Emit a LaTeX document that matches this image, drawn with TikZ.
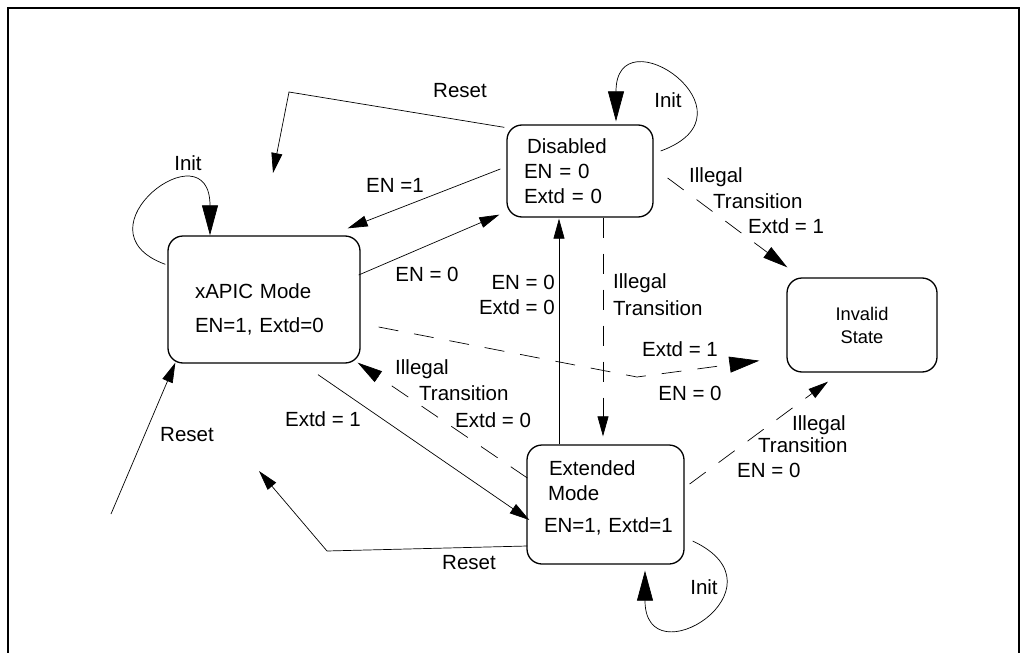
\documentclass[tikz,border=0pt]{standalone}
\usepackage{fontspec}
\setmainfont{Liberation Sans}
\usetikzlibrary{arrows.meta}

\tikzset{
  modebox/.style={draw, line width=1.3pt, rounded corners=15pt, inner ysep=0pt, align=left},
  trans/.style={line width=0.7pt},
  illegal/.style={trans, dash pattern=on 20pt off 16pt},
  bighead/.style={-{Triangle[length=30pt,width=16pt]}},
  midhead/.style={-{Triangle[length=25pt,width=13pt]}},
  smallhead/.style={-{Triangle[length=20pt,width=11pt]}},
  txt/.style={inner sep=0pt, align=left}
}

\begin{document}
\begin{tikzpicture}[x=1pt, y=1pt, font=\fontsize{20.5}{25}\selectfont]
\useasboundingbox (0,0) rectangle (1021,-653);
\draw[line width=2.2pt] (8,-653) -- (8,-8) -- (1019,-8) -- (1019,-653);

% the four states
\node (xapic) [modebox, minimum width=192pt, minimum height=127pt, inner xsep=27pt, text width=138pt] at (264,-299.5) {\rule{0pt}{34pt}xAPIC Mode\\[9pt]EN=1,~Extd=0};
\node (dis) [modebox, minimum width=146pt, minimum height=92pt, inner xsep=17pt, text width=112pt] at (580,-171) {\hspace*{3pt}Disabled\\EN = 0\\Extd = 0};
\node (inv) [modebox, align=center, minimum width=150pt, minimum height=94pt, font=\fontsize{18.3}{23}\selectfont] at (862,-325) {Invalid\\State};
\node (ext) [modebox, minimum width=157pt, minimum height=119pt, inner xsep=17pt, text width=123pt] at (605.5,-504.5) {\hspace*{5pt}Extended\\\hspace*{4pt}Mode\\[7pt]EN=1,~Extd=1\rule[-15pt]{0pt}{0pt}};

% Reset from disabled
\coordinate (rtop) at (289,-92);
\coordinate (rtoptip) at (273,-173);
\draw[trans, smallhead] ([shift={(-2,-3)}]dis.north west) -- (rtop) -- (rtoptip);
\node (lrst1) [txt] at (460,-91) {Reset};

% Init on xapic
\draw[trans, bighead] ([shift={(-2,-29)}]xapic.north west) .. controls +(160:100) and +(90:110) .. ([xshift=-54pt]xapic.north);
\node (linit1) [txt] at (188,-163) {Init};

% xapic <-> disabled
\draw[trans, smallhead] ([shift={(-6,2)}]dis.west) -- ([shift={(-13,7)}]xapic.north east);
\node (len1) [txt] at (395,-185) {EN =1};
\draw[trans, smallhead] ([shift={(-2,24.5)}]xapic.east) -- ([shift={(-7,3)}]dis.south west);
\node (len0) [txt] at (427,-274) {EN = 0};

% Init on disabled
\draw[trans, bighead] ([shift={(7,20)}]dis.east) .. controls +(20:110) and +(90:110) .. ([shift={(36,3)}]dis.north);
\node (linit2) [txt] at (668,-100) {Init};

% disabled -> invalid
\draw[illegal, midhead] ([shift={(14,-7)}]dis.east) -- ([shift={(1,10)}]inv.north west);
\node (lill1) [txt, anchor=north west] at (689,-167) {Illegal\\[1pt]\hspace*{24pt}Transition\\\hspace*{59pt}Extd = 1};

% disabled <-> extended
\draw[illegal, smallhead] ([xshift=23pt]dis.south) -- ([shift={(-2.5,8)}]ext.north);
\node (lill2) [txt, anchor=north west] at (613,-273) {Illegal\\[2pt]Transition};
\draw[trans, smallhead] ([xshift=-46.5pt]ext.north) -- ([shift={(-21,-1)}]dis.south);
\node (lenx) [txt, align=right, anchor=north east] at (555,-275) {EN = 0\\Extd = 0};

% xapic -> invalid
\coordinate (ibend) at (637,-377);
\draw[illegal, bighead] ([shift={(18,-27.5)}]xapic.east) -- (ibend) -- ([shift={(-27,12)}]inv.south west);
\node (lext1) [txt] at (680,-349) {Extd = 1};
\node (len0b) [txt] at (690,-393) {EN = 0};

% extended -> xapic
\draw[illegal, midhead] ([shift={(1,26.5)}]ext.west) -- ([shift={(-3,1)}]xapic.south east);
\node (lill3) [txt, anchor=north west] at (395,-359) {Illegal\\[1pt]\hspace*{24pt}Transition\\[2pt]\hspace*{60pt}Extd = 0};

% xapic -> extended
\draw[trans, smallhead] ([shift={(54,-11)}]xapic.south) -- ([shift={(3,-15.5)}]ext.west);
\node (lext2) [txt] at (323,-419) {Extd = 1};

% Reset from extended
\coordinate (rbend) at (327,-551);
\coordinate (rtip) at (259,-471);
\draw[trans, smallhead] ([shift={(1,-41.5)}]ext.west) -- (rbend) -- (rtip);
\node (lrst2) [txt] at (469,-563) {Reset};

% Reset into xapic
\coordinate (rin) at (111,-514);
\draw[trans, smallhead] (rin) -- ([shift={(8,1)}]xapic.south west);
\node (lrst3) [txt] at (187,-435) {Reset};

% extended -> invalid
\draw[illegal, smallhead] ([shift={(5,20.5)}]ext.east) -- ([shift={(-34,-9)}]inv.south);
\node (lill4) [txt, anchor=north west] at (737,-415) {\hspace*{55pt}Illegal\\[-3pt]\hspace*{21pt}Transition\\EN = 0};

% Init on extended
\draw[trans, bighead] ([shift={(8,-36.5)}]ext.east) .. controls +(-25:110) and +(-90:110) .. ([shift={(39.5,-6)}]ext.south);
\node (linit3) [txt] at (704,-587) {Init};
\end{tikzpicture}
\end{document}
